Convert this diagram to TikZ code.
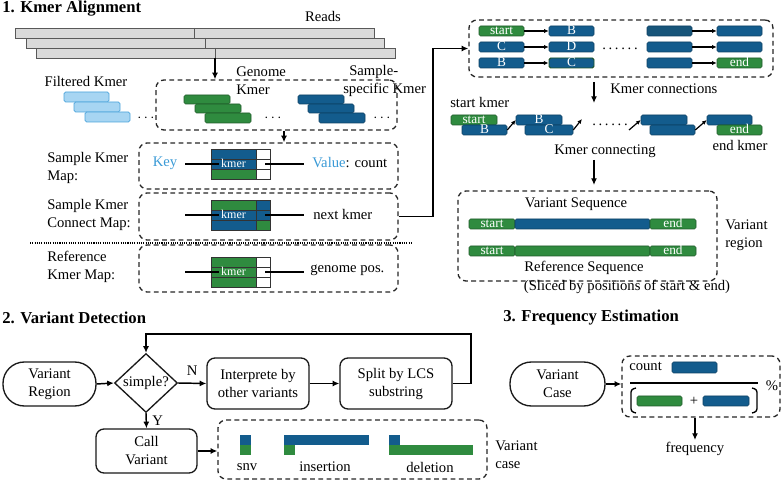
\documentclass[tikz,border=0pt]{standalone}
\usepackage{fontspec}
\setmainfont{Liberation Serif}
\usetikzlibrary{arrows.meta,shapes.geometric}
\definecolor{kblue}{HTML}{135C8D}
\definecolor{kdark}{HTML}{17557A}
\definecolor{kgreen}{HTML}{2F8B3F}
\definecolor{klight}{HTML}{A7D5F2}
\definecolor{klightb}{HTML}{4BA3DB}
\definecolor{keyblue}{HTML}{3A9AD6}
\definecolor{rgray}{HTML}{DADADA}
\newcommand\rnode[7]{\node[inner sep=0pt,#2,minimum width={((#5)-(#3))*0.75pt},minimum height={((#6)-(#4))*0.75pt}] (#1) at ({((#3)+(#5))/2},{((#4)+(#6))/2}) {#7};}
\newcommand\kblock[8]{%
\rnode{#1a}{cell,fill=#3}{211}{#2}{256}{(#2)+10}{}
\rnode{#1b}{cell,fill=#4,kmertext}{211}{(#2)+10}{256}{(#2)+20}{kmer}
\rnode{#1c}{cell,fill=#5}{211}{(#2)+20}{256}{(#2)+30}{}
\rnode{#1d}{cell,fill=#6}{256}{#2}{270}{(#2)+10}{}
\rnode{#1e}{cell,fill=#7}{256}{(#2)+10}{270}{(#2)+20}{}
\rnode{#1f}{cell,fill=#8}{256}{(#2)+20}{270}{(#2)+30}{}}
\newcommand\sixdots{.\hspace{2pt}.\hspace{2pt}.\hspace{2pt}.\hspace{2pt}.\hspace{2pt}.}
\begin{document}
\begin{tikzpicture}[x=0.75pt,y=-0.75pt,
  every node/.style={font=\fontsize{11}{13.5}\selectfont},
  txt/.style={inner sep=0pt,align=center},
  ltxt/.style={inner sep=0pt,align=left,anchor=west},
  title/.style={font=\fontsize{12.5}{14}\selectfont\bfseries,anchor=west,inner sep=0pt},
  arr/.style={-{Latex[length=5pt,width=4.5pt]},line width=1.1pt},
  thinarr/.style={-{Latex[length=3.5pt,width=3.2pt]},line width=0.9pt},
  ln/.style={line width=0.8pt},
  barlbl/.style={text=white,font=\fontsize{10}{10}\selectfont,text height=5.5pt,text depth=0pt},
  bb/.style={fill=kblue,draw=kblue!70!black,line width=0.4pt,rounded corners=1.2pt,barlbl},
  gb/.style={fill=kgreen,draw=kgreen!65!black,line width=0.4pt,rounded corners=1.2pt,barlbl},
  bbs/.style={fill=kblue,draw=none},
  gbs/.style={fill=kgreen,draw=none},
  lb/.style={fill=klight,draw=klightb,line width=0.6pt,rounded corners=1.2pt},
  readb/.style={fill=rgray,draw=black!65,line width=0.6pt},
  dbox/.style={draw=black!85,dash pattern=on 3.6pt off 2.6pt,line width=1pt,rounded corners=6pt},
  fbox/.style={draw=black!90,line width=1pt,rounded corners=6pt,align=center},
  stad/.style={draw=black!90,line width=1pt,rounded corners=16pt,align=center},
  cell/.style={draw=black!80,line width=0.5pt},
  kmertext/.style={text=white,font=\fontsize{9}{9}\selectfont,text height=5pt,text depth=0pt}]
\useasboundingbox (0,0) rectangle (783,481);

% ---------- 1. Kmer Alignment ----------
\node[title] (t1) at (2,9) {1. Kmer Alignment};
\node[txt] (readst) at (323,16) {Reads};
\rnode{r1}{readb}{15}{28}{374}{38}{}
\rnode{r2}{readb}{26}{38}{384}{48}{}
\rnode{r3}{readb}{36}{48}{395}{58}{}
\draw[readb] (194,28) -- (194,38) (205,38) -- (205,48) (215,48) -- (215,58);

\node[txt] (filt) at (86,81) {Filtered Kmer};
\rnode{f1}{lb}{64}{92}{109}{102}{}
\rnode{f2}{lb}{74}{102}{120}{112}{}
\rnode{f3}{lb}{85}{112}{130}{122}{}
\node[txt] (fd) at (146,118) {$\cdots$};

\rnode{dk}{dbox}{156}{80}{397}{130}{}
\coordinate (rd) at (215,58);
\draw[arr] (rd) -- (rd |- dk.north);

\node[ltxt] (gk) at (236,81) {Genome\\Kmer};
\rnode{g1}{gb}{184}{95}{230}{104}{}
\rnode{g2}{gb}{195}{104}{241}{113}{}
\rnode{g3}{gb}{205}{113}{251}{123}{}
\node[txt] (gd) at (273,118) {$\cdots$};
\node[ltxt] (sk) at (343,81) {\hspace*{4.5pt}Sample-\\specific Kmer};
\rnode{b1}{bb}{298}{95}{344}{104}{}
\rnode{b2}{bb}{308}{104}{354}{113}{}
\rnode{b3}{bb}{319}{113}{365}{123}{}
\node[txt] (bd) at (382,118) {$\cdots$};

\node[ltxt] (l1) at (47,168) {Sample Kmer\\Map:};
\node[ltxt] (l2) at (47,215) {Sample Kmer\\Connect Map:};
\node[ltxt] (l3) at (47,267) {Reference\\Kmer Map:};

\rnode{m1}{dbox}{139}{143}{398}{189}{}
\rnode{m2}{dbox}{139}{193}{398}{240}{}
\rnode{m3}{dbox}{139}{245}{398}{292}{}
\draw[line width=0.9pt,dash pattern=on 0.8pt off 0.9pt] (30,243) -- (413,243);
\coordinate (ax1) at (284,0);
\draw[arr] (dk.south -| ax1) -- (m1.north -| ax1);

\kblock{k1}{149}{kblue}{kblue}{kgreen}{white}{white}{white}
\kblock{k2}{200}{kgreen}{kblue}{kblue}{kblue}{kblue}{kgreen}
\kblock{k3}{257}{kgreen}{kgreen}{kgreen}{white}{white}{white}

\node[txt,text=keyblue] (key) at (165,163) {Key};
\coordinate (kl1) at (185,164); \coordinate (kr1) at (265,164);
\draw[ln] (kl1) -- ++(34,0); \draw[ln] (kr1) -- ++(39,0);
\node[ltxt] (val) at (312,163) {\textcolor{keyblue}{Value}: count};
\coordinate (kl2) at (185,215); \coordinate (kr2) at (265,215);
\draw[ln] (kl2) -- ++(34,0); \draw[ln] (kr2) -- ++(39,0);
\node[ltxt] (nk) at (313,214) {next kmer};
\coordinate (kl3) at (185,272); \coordinate (kr3) at (265,272);
\draw[ln] (kl3) -- ++(34,0); \draw[ln] (kr3) -- ++(39,0);
\node[ltxt] (gp) at (310,270) {genome pos.};

% connector to kmer connections
\rnode{rt}{dbox}{469}{20}{773}{77}{}
\coordinate (cx) at (433,0);
\draw[arr] (m2.east) -- (m2.east -| cx) |- (rt.west);

\rnode{a11}{gb}{479}{26}{524}{36}{start}
\rnode{a12}{bb}{549}{26}{594}{36}{B}
\rnode{a13}{bb,fill=kdark}{647}{26}{692}{36}{}
\rnode{a14}{bb}{717}{26}{762}{36}{}
\rnode{a21}{bb}{479}{42}{524}{52}{C}
\rnode{a22}{bb}{549}{42}{594}{52}{D}
\rnode{a23}{bb}{647}{42}{692}{52}{}
\rnode{a24}{bb}{717}{42}{762}{52}{}
\rnode{a31}{bb}{479}{58}{524}{68}{B}
\rnode{a32}{bb,draw=kgreen!60!black,line width=0.7pt}{549}{58}{594}{68}{C}
\rnode{a33}{bb}{647}{58}{692}{68}{}
\rnode{a34}{gb}{717}{58}{762}{68}{end}
\foreach \r in {1,2,3}{
  \draw[thinarr] (a\r1.east) -- (a\r2.west);
  \draw[thinarr] (a\r3.east) -- (a\r4.west);}
\node[txt] (rdots) at (620,49) {\sixdots};

\coordinate (kc1) at (594,82); \coordinate (kc2) at (594,103);
\draw[arr] (kc1) -- (kc2);
\node[ltxt] (kct) at (610,89) {Kmer connections};
\node[ltxt] (skt) at (450,102) {start kmer};

\rnode{s1}{gb}{451}{115}{497}{125}{start}
\rnode{s2}{bb}{462}{125}{507}{135}{B}
\rnode{s3}{bb}{516}{115}{562}{125}{B}
\rnode{s4}{bb}{525}{125}{573}{135}{C}
\rnode{s5}{bb}{641}{115}{687}{125}{}
\rnode{s6}{bb}{650}{125}{695}{135}{}
\rnode{s7}{bb}{707}{115}{752}{125}{}
\rnode{s8}{gb}{717}{125}{762}{135}{end}
\node[txt] (sdots) at (610,125) {\sixdots};
\coordinate (sa1) at (582,119); \coordinate (sa2) at (629,130);
\draw[thinarr] (s2.east) -- (s3.west);
\draw[thinarr] (s4.east) -- (sa1);
\draw[thinarr] (sa2) -- (s5.west);
\draw[thinarr] (s6.east) -- (s7.west);
\node[txt] (ekt) at (740,145) {end kmer};
\node[txt] (kcg) at (605,151) {Kmer connecting};

\rnode{vr}{dbox}{458}{191}{717}{281}{}
\coordinate (kc3) at (594,160);
\draw[arr] (kc3) -- (594,185);
\node[txt] (vst) at (576,204) {Variant Sequence};
\rnode{v1}{gb}{469}{219}{515}{229}{start}
\rnode{v2}{bb}{515}{219}{650}{229}{}
\rnode{v3}{gb}{650}{219}{696}{229}{end}
\rnode{w1}{gb}{469}{246}{515}{256}{start}
\rnode{w2}{gb}{515}{246}{650}{256}{}
\rnode{w3}{gb}{650}{246}{696}{256}{end}
\node[txt] (rst) at (584,268) {Reference Sequence};
\node[txt] (sli) at (627,287) {(Sliced by positions of start \& end)};
\node[ltxt] (vrg) at (725,235) {Variant\\region};

% ---------- 2. Variant Detection ----------
\node[title] (t2) at (2,318) {2. Variant Detection};
\rnode{vreg}{stad}{3}{362}{96}{406}{Variant\\Region}
\node[diamond,draw=black!90,line width=1pt,minimum width=47.25pt,minimum height=41.25pt,inner sep=0pt] (dia) at (146,383) {simple?};
\draw[arr] (vreg.east) -- (dia.west);
\rnode{interp}{fbox}{207}{358}{309}{409}{Interprete by\\other variants}
\rnode{split}{fbox}{340}{358}{452}{409}{Split by LCS\\substring}
\draw[arr] (dia.east) -- (interp.west) node[txt,midway,above=5pt] (nlab) {N};
\draw[arr] (interp.east) -- (split.west);
\coordinate (lp) at (471,334);
\draw[arr] (split.east) -| (lp) -| (dia.north);
\rnode{call}{fbox}{96}{429}{197}{473}{Call\\Variant}
\draw[arr] (dia.south) -- (call.north) node[txt,midway,right=4pt] (ylab) {Y};
\rnode{vc}{dbox}{218}{420}{487}{479}{}
\draw[arr] (call.east) -- (call.east -| vc.west);
\rnode{sn1}{bbs}{240}{435}{251}{445}{}
\rnode{sn2}{gbs}{240}{445}{251}{455}{}
\rnode{in1}{bbs}{284}{435}{369}{445}{}
\rnode{in2}{gbs}{284}{445}{295}{455}{}
\rnode{de1}{bbs}{389}{435}{400}{445}{}
\rnode{de2}{gbs}{389}{445}{473}{455}{}
\node[txt] (snv) at (247,467) {snv};
\node[txt] (ins) at (325,467) {insertion};
\node[txt] (del) at (430,467) {deletion};
\node[ltxt] (vcl) at (495,455) {Variant\\case};

% ---------- 3. Frequency Estimation ----------
\node[title] (t3) at (503,318) {3. Frequency Estimation};
\rnode{vcase}{stad}{510}{362}{605}{406}{Variant\\Case}
\rnode{fb}{dbox}{622}{356}{780}{417}{}
\draw[arr] (vcase.east) -- (vcase.east -| fb.west);
\node[ltxt] (cnt) at (629,366) {count};
\rnode{fcb}{bb}{672}{362}{717}{373}{}
\coordinate (fl1) at (630,383); \coordinate (fl2) at (758,383);
\draw[line width=1.3pt] (fl1) -- (fl2);
\node[txt] (pct) at (772,386) {\%};
\draw[line width=1pt,rounded corners=2pt] (636,388) -- (631,389.5) -- (631,411.5) -- (636,413);
\draw[line width=1pt,rounded corners=2pt] (752,388) -- (757,389.5) -- (757,411.5) -- (752,413);
\rnode{fg}{gb}{637}{396}{682}{406}{}
\node[txt] (plus) at (694,401) {+};
\rnode{fbb}{bb}{703}{396}{749}{406}{}
\coordinate (fa) at (695,0);
\draw[arr] (fb.south -| fa) -- (695,440);
\node[txt] (freq) at (695,449) {frequency};
\end{tikzpicture}
\end{document}
